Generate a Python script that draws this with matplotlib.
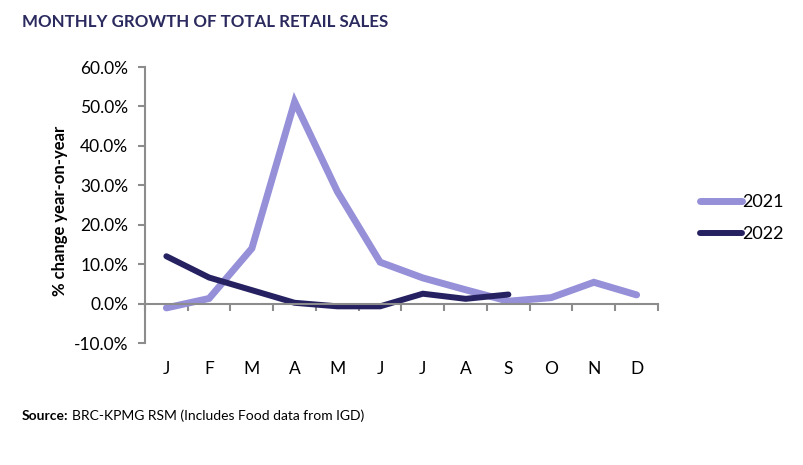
import matplotlib
matplotlib.use("Agg")
import matplotlib.pyplot as plt
from matplotlib.lines import Line2D

months = ["J", "F", "M", "A", "M", "J", "J", "A", "S", "O", "N", "D"]
sales_2021 = [-1.1, 1.3, 14.0, 51.2, 28.4, 10.5, 6.5, 3.5, 0.6, 1.5, 5.4, 2.2]
sales_2022 = [12.0, 6.6, 3.4, 0.2, -0.7, -0.7, 2.5, 1.2, 2.3]
yticks = [-10, 0, 10, 20, 30, 40, 50, 60]

c2021 = "#9590d8"
c2022 = "#262262"
axis_gray = "#8c8c8c"
font = ["Lato", "DejaVu Sans"]
plt.rcParams["font.family"] = font

fig = plt.figure(figsize=(8.04, 4.65), dpi=100)
ax = fig.add_axes([145 / 804, 1 - 343 / 465, (658 - 145) / 804, (343 - 67) / 465])

x = list(range(len(months)))
ax.plot(x, sales_2021, color=c2021, lw=5, solid_capstyle="round", solid_joinstyle="miter", label="2021")
ax.plot(x[:len(sales_2022)], sales_2022, color=c2022, lw=4.3, solid_capstyle="round", solid_joinstyle="miter", label="2022")

ax.set_xlim(-0.5, len(months) - 0.5)
ax.set_ylim(-10, 60)
ax.set_yticks(yticks)
ax.set_yticklabels([f"{v:.1f}%" for v in yticks], fontsize=12.5, color="black")

for s in ["top", "right"]:
    ax.spines[s].set_visible(False)
ax.spines["left"].set_color(axis_gray)
ax.spines["left"].set_linewidth(1.5)
ax.spines["bottom"].set_color(axis_gray)
ax.spines["bottom"].set_linewidth(1.5)
ax.spines["bottom"].set_position(("data", 0))

ax.tick_params(axis="y", direction="out", length=5, width=1.5, color=axis_gray, pad=7)
ax.set_xticks([i - 0.5 for i in range(len(months) + 1)])
ax.set_xticklabels([])
ax.tick_params(axis="x", which="major", direction="out", length=5, width=1.5, color=axis_gray)
ax.set_xticks(x, minor=True)
ax.set_xticklabels(months, minor=True, fontsize=12.5)
ax.tick_params(axis="x", which="minor", length=0, pad=41)

ax.set_ylabel("% change year-on-year", fontsize=12, fontweight="bold")
ax.yaxis.set_label_coords(-0.150, 0.478)

fig.text(22 / 804, 1 - 22 / 465, "MONTHLY GROWTH OF TOTAL RETAIL SALES", fontsize=12.2,
         color="#2b2a5e", fontweight="bold", va="center", ha="left")

fig.text(22 / 804, 1 - 416 / 465, "Source:", fontsize=10, fontweight="bold", va="center", ha="left")
fig.text(72 / 804, 1 - 416 / 465, "BRC-KPMG RSM (Includes Food data from IGD)", fontsize=10,
         va="center", ha="left")

handles = [Line2D([0], [0], color=c2021, lw=5, solid_capstyle="round"),
           Line2D([0], [0], color=c2022, lw=4.3, solid_capstyle="round")]
fig.legend(handles, ["2021", "2022"], loc="center left", bbox_to_anchor=(684 / 804, 1 - 218 / 465),
           frameon=False, fontsize=13, handlelength=2.3, handletextpad=0.05, labelspacing=0.9)

fig.savefig("out.png", dpi=100)
